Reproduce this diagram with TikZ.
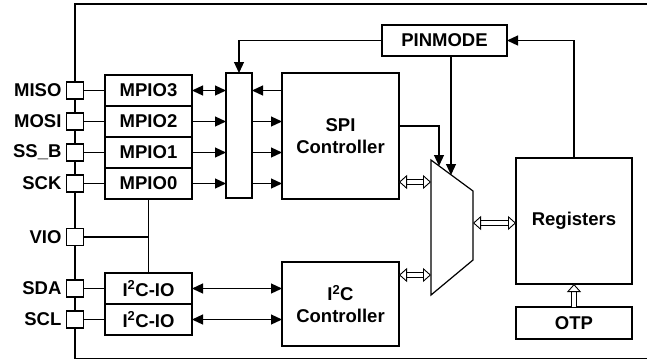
\documentclass[tikz,border=0pt]{standalone}
\usepackage{fontspec}
\setmainfont{Liberation Sans}
\usetikzlibrary{arrows.meta,positioning}

\tikzset{
  blk/.style={draw, line width=1.2pt, inner sep=0pt, outer sep=0pt, align=center,
    font=\bfseries\fontsize{18.5}{22}\selectfont},
  pad/.style={draw, line width=1.2pt, fill=white, minimum size=17pt, inner sep=0pt},
  padlbl/.style={anchor=east, inner sep=0pt, font=\bfseries\fontsize{18.5}{22}\selectfont},
  sig/.style={line width=1.2pt, -{Triangle[length=11pt,width=10pt]}},
  bisig/.style={line width=1.2pt, {Triangle[length=11pt,width=10pt]}-{Triangle[length=11pt,width=10pt]}},
  hollow/.style={double, double distance=4pt, line width=0.9pt,
    -{Triangle[open,length=8pt,width=14pt,fill=white]}},
  bihollow/.style={hollow, {Triangle[open,length=8pt,width=14pt,fill=white]}-{Triangle[open,length=8pt,width=14pt,fill=white]}}
}

\begin{document}
\begin{tikzpicture}[x=1pt, y=-1pt, line width=1.2pt]
\useasboundingbox (0,0) rectangle (647,360);

% chip outline
\draw (647,4) -- (75,4) -- (75,358.5) -- (647,358.5);

% pin side io cells
\node[blk, minimum width=87pt, minimum height=31pt] (mpio3) at (148.5,90.5) {MPIO3};
\node[blk, minimum width=87pt, minimum height=31pt, below=0pt of mpio3] (mpio2) {MPIO2};
\node[blk, minimum width=87pt, minimum height=31pt, below=0pt of mpio2] (mpio1) {MPIO1};
\node[blk, minimum width=87pt, minimum height=31pt, below=0pt of mpio1] (mpio0) {MPIO0};
\node[blk, minimum width=87pt, minimum height=31pt] (sdaio) at (148.5,288.5) {I\textsuperscript{2}C-IO};
\node[blk, minimum width=87pt, minimum height=31pt, below=0pt of sdaio] (sclio) {I\textsuperscript{2}C-IO};

% pads
\node[pad] (pmiso) at (75,90.5) {};
\node[pad] (pmosi) at (75,121.5) {};
\node[pad] (pssb) at (75,152.5) {};
\node[pad] (psck) at (75,183.5) {};
\node[pad] (pvio) at (75,237) {};
\node[pad] (psda) at (75,288.5) {};
\node[pad] (pscl) at (75,319.5) {};
\node[padlbl] (lmiso) at (62,90.5) {MISO};
\node[padlbl] (lmosi) at (62,121.5) {MOSI};
\node[padlbl] (lssb) at (62,152.5) {SS\_B};
\node[padlbl] (lsck) at (62,183.5) {SCK};
\node[padlbl] (lvio) at (62,237) {VIO};
\node[padlbl] (lsda) at (62,288.5) {SDA};
\node[padlbl] (lscl) at (62,319.5) {SCL};

\draw (pmiso.east) -- (mpio3.west);
\draw (pmosi.east) -- (mpio2.west);
\draw (pssb.east) -- (mpio1.west);
\draw (psck.east) -- (mpio0.west);
\draw (psda.east) -- (sdaio.west);
\draw (pscl.east) -- (sclio.west);
\draw (pvio.east) -- (mpio0.south |- pvio.east);
\draw (mpio0.south) -- (sdaio.north);

% core blocks
\node[blk, minimum width=26pt, minimum height=125pt] (swbar) at (239,135.5) {};
\node[blk, minimum width=117pt, minimum height=126pt] (spi) at (340.5,136) {SPI\\Controller};
\node[blk, minimum width=117pt, minimum height=84pt] (i2cc) at (340.5,304) {I\textsuperscript{2}C\\Controller};
\node[blk, minimum width=125pt, minimum height=31pt] (pinmode) at (444.5,40.5) {PINMODE};
\node[blk, minimum width=116pt, minimum height=126pt] (regs) at (574,221) {Registers};
\node[blk, minimum width=116pt, minimum height=32pt] (otp) at (574,323) {OTP};

% mux
\coordinate (muxtl) at (431,160);
\coordinate (muxtr) at (473,191);
\coordinate (muxbr) at (473,260);
\coordinate (muxbl) at (431,295);
\draw (muxtl) -- (muxtr) -- (muxbr) -- (muxbl) -- cycle;
\coordinate (mxa) at (439,166);
\coordinate (mxb) at (451,175);
\coordinate (ml1) at (431,182);
\coordinate (ml2) at (431,275);
\coordinate (mr) at (473,223);

% signals
\draw[bisig] (mpio3.east) -- (swbar.west |- mpio3.east);
\draw[sig] (mpio2.east) -- (swbar.west |- mpio2.east);
\draw[sig] (mpio1.east) -- (swbar.west |- mpio1.east);
\draw[sig] (mpio0.east) -- (swbar.west |- mpio0.east);
\draw[sig] (spi.west |- mpio3.east) -- (swbar.east |- mpio3.east);
\draw[sig] (swbar.east |- mpio2.east) -- (spi.west |- mpio2.east);
\draw[sig] (swbar.east |- mpio1.east) -- (spi.west |- mpio1.east);
\draw[sig] (swbar.east |- mpio0.east) -- (spi.west |- mpio0.east);
\draw[bisig] (sdaio.east) -- (i2cc.west |- sdaio.east);
\draw[bisig] (sclio.east) -- (i2cc.west |- sclio.east);
\draw[sig] (pinmode.west) -| (swbar.north);
\draw[sig] (mxb |- pinmode.south) -- (mxb);
\draw[sig] ([yshift=10pt]spi.east) -| (mxa);
\draw[sig] (regs.north) |- (pinmode.east);

% buses
\draw[bihollow] (spi.east |- ml1) -- (ml1);
\draw[bihollow] (i2cc.east |- ml2) -- (ml2);
\draw[bihollow] (mr) -- (regs.west |- mr);
\draw[hollow] (otp.north) -- (regs.south);
\end{tikzpicture}
\end{document}
